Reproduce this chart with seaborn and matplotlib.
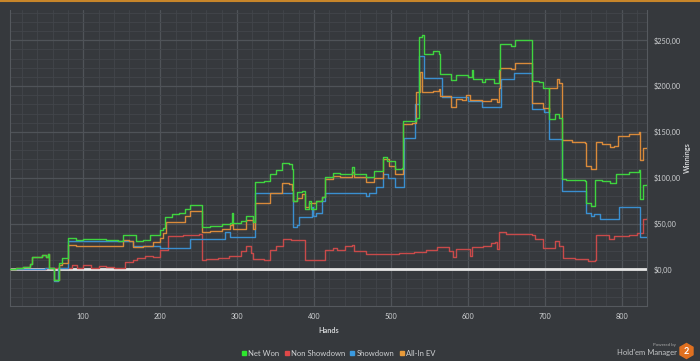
import matplotlib
matplotlib.use('Agg')
import matplotlib.pyplot as plt
from matplotlib.lines import Line2D
from matplotlib.patches import RegularPolygon
from matplotlib.ticker import MultipleLocator, FuncFormatter
import seaborn as sns
import pandas as pd

# step breakpoints: (hand, winnings)
NET_WON = [(0, 0), (5, 0), (13, 2), (22, 3), (31, 6), (33, 13), (40, 14), (46, 16), (52, 14),
           (54, 17), (56, 2), (60, 2), (62, -12), (66, -12), (68, 7), (72, 12), (79, 12), (80, 34),
           (90, 32), (100, 33), (115, 33), (130, 32), (145, 31), (152, 37), (160, 37), (168, 31),
           (178, 32), (187, 37), (197, 37), (200, 43), (204, 45), (206, 57), (215, 60), (225, 62),
           (232, 66), (239, 70), (253, 70), (254, 46), (265, 47), (280, 49), (291, 51), (293, 61),
           (295, 51), (305, 53), (312, 58), (321, 52), (323, 95), (335, 96), (343, 104), (351, 108),
           (358, 116), (368, 115), (371, 110), (373, 75), (378, 84), (385, 85), (388, 66), (394, 75),
           (396, 66), (402, 75), (410, 79), (414, 101), (425, 105), (434, 104), (449, 112), (452, 104),
           (468, 101), (478, 107), (490, 123), (495, 118), (505, 110), (515, 111), (516, 162),
           (528, 162), (532, 165), (536, 253), (540, 256), (543, 235), (555, 238), (562, 235),
           (564, 213), (578, 207), (584, 212), (592, 212), (600, 210), (605, 217), (607, 208),
           (618, 204), (622, 208), (634, 203), (640, 218), (642, 246), (656, 244), (661, 250),
           (682, 250), (683, 206), (692, 204), (698, 198), (705, 198), (706, 164), (714, 170),
           (718, 165), (722, 99), (728, 97), (752, 96), (754, 72), (760, 69), (765, 97), (775, 96),
           (785, 94), (793, 104), (810, 106), (822, 108), (824, 77), (828, 92), (833, 93)]

NON_SHOWDOWN = [(0, 0), (50, 0), (52, 2), (85, 5), (92, 2), (100, 5), (110, 2), (120, 4), (130, 3),
                (140, 1), (150, 2), (154, 8), (165, 10), (170, 12), (180, 15), (190, 14), (200, 21),
                (206, 21), (210, 36), (220, 36), (230, 37), (250, 39), (254, 10), (260, 11), (275, 12),
                (290, 15), (305, 20), (312, 25), (318, 18), (321, 11), (335, 10), (343, 21), (350, 25),
                (360, 33), (370, 32), (388, 10), (414, 21), (425, 23), (430, 21), (440, 25), (449, 27),
                (452, 20), (468, 17), (490, 17), (510, 18), (530, 19), (545, 21), (560, 24), (575, 20),
                (581, 14), (585, 22), (603, 15), (605, 24), (620, 26), (630, 29), (635, 30), (638, 22),
                (640, 41), (650, 39), (683, 38), (688, 33), (698, 23), (706, 23), (714, 31), (718, 25),
                (724, 12), (740, 11), (756, 9), (765, 10), (767, 37), (780, 38), (784, 33), (790, 36),
                (810, 38), (820, 40), (828, 55), (833, 57)]

SHOWDOWN = [(0, 0), (50, 2), (62, -13), (66, -13), (67, 2), (79, 2), (80, 31), (165, 25), (200, 23),
            (239, 33), (284, 41), (291, 35), (323, 83), (373, 46), (378, 48), (380, 57), (397, 68),
            (399, 58), (402, 62), (410, 75), (414, 83), (468, 80), (472, 83), (481, 90), (490, 104),
            (496, 100), (505, 90), (517, 143), (531, 180), (536, 233), (543, 209), (566, 188),
            (600, 184), (619, 177), (643, 208), (660, 214), (683, 175), (699, 172), (706, 142),
            (722, 86), (754, 61), (760, 58), (764, 60), (772, 55), (797, 68), (824, 35), (833, 35)]

ALL_IN_EV = [(0, 0), (5, 0), (13, 2), (22, 3), (31, 6), (33, 13), (40, 14), (46, 16), (52, 14),
             (54, 17), (56, 2), (60, 2), (62, -12), (66, -12), (68, 5), (72, 7), (79, 7), (80, 27),
             (90, 25), (100, 26), (120, 26), (140, 25), (152, 32), (160, 31), (165, 24), (178, 26),
             (190, 30), (200, 34), (204, 40), (208, 52), (225, 52), (232, 58), (239, 64), (253, 64),
             (254, 41), (265, 42), (280, 44), (291, 48), (293, 50), (295, 44), (312, 54), (321, 44),
             (323, 72), (335, 72), (343, 83), (351, 83), (358, 94), (368, 93), (371, 87), (373, 75),
             (378, 78), (385, 82), (388, 68), (394, 72), (402, 75), (410, 79), (414, 99), (425, 102),
             (434, 101), (449, 106), (452, 101), (468, 95), (478, 100), (490, 120), (497, 113),
             (505, 104), (515, 104), (516, 159), (528, 160), (533, 193), (538, 215), (541, 193),
             (555, 195), (562, 197), (564, 189), (578, 177), (584, 186), (592, 185), (598, 190),
             (603, 185), (618, 184), (630, 186), (638, 183), (640, 198), (642, 220), (656, 219),
             (661, 225), (682, 225), (683, 181), (698, 176), (705, 172), (706, 198), (716, 208),
             (719, 203), (723, 141), (735, 139), (752, 138), (754, 113), (760, 110), (767, 139),
             (775, 137), (785, 134), (790, 135), (795, 146), (810, 148), (822, 150), (824, 119),
             (828, 132), (833, 134)]

SERIES = ['Net Won', 'Non Showdown', 'Showdown', 'All-In EV']
COLORS = {'Net Won': '#3fd43f', 'Non Showdown': '#c94a4a',
          'Showdown': '#3a8fd0', 'All-In EV': '#d98a3a'}
LEGEND_COLORS = {'Net Won': '#2ee82e', 'Non Showdown': '#e04848',
                 'Showdown': '#3a9ae0', 'All-In EV': '#e89a3a'}

BG = '#36393d'
TXT = '#cfd1d3'

rows = []
for name, pts in zip(SERIES, [NET_WON, NON_SHOWDOWN, SHOWDOWN, ALL_IN_EV]):
    for h, v in pts:
        rows.append({'Hands': h, 'Winnings': v, 'series': name})
df = pd.DataFrame(rows)

sns.set_style('dark')
plt.rcParams['font.family'] = ['Lato', 'DejaVu Sans']

fig = plt.figure(figsize=(7, 3.61), dpi=100, facecolor=BG)
ax = fig.add_axes([10 / 700, 55 / 361, 637 / 700, 296 / 361], facecolor=BG)

ax.set_xlim(4.7, 833)
ax.set_ylim(-40, 283)

ax.xaxis.set_major_locator(MultipleLocator(100))
ax.xaxis.set_minor_locator(MultipleLocator(20))
ax.yaxis.set_major_locator(MultipleLocator(50))
ax.yaxis.set_minor_locator(MultipleLocator(10))
ax.grid(which='major', color='#4f5358', lw=0.9)
ax.grid(which='minor', color='#42464b', lw=0.6)
ax.set_axisbelow(True)

ax.axhline(0, color='#e6e6e6', lw=2, zorder=2)

for name in ['Non Showdown', 'Showdown', 'All-In EV', 'Net Won']:
    sub = df[df['series'] == name]
    sns.lineplot(data=sub, x='Hands', y='Winnings', ax=ax, color=COLORS[name],
                 drawstyle='steps-post', lw=1.0, estimator=None, sort=False,
                 legend=False, zorder=3)

ax.yaxis.tick_right()
ax.yaxis.set_label_position('right')
ax.yaxis.set_major_formatter(FuncFormatter(lambda v, p: f'${v:,.2f}'.replace('.', ',')))
ax.set_xticks([100, 200, 300, 400, 500, 600, 700, 800])
ax.set_yticks([0, 50, 100, 150, 200, 250])
ax.tick_params(which='both', length=0, colors=TXT, labelsize=5.2, pad=5)

ax.set_xlabel('Hands', color=TXT, fontsize=5.2, fontweight='bold')
ax.xaxis.set_label_coords(0.5, -0.072)
ax.set_ylabel('Winnings', color=TXT, fontsize=5.2, fontweight='bold', labelpad=2)

for s in ax.spines.values():
    s.set_color('#55595e')
    s.set_linewidth(0.8)
ax.spines['top'].set_visible(False)

handles = [Line2D([], [], marker='s', ls='', color=LEGEND_COLORS[n], markersize=3) for n in SERIES]
fig.legend(handles, SERIES, loc='center', bbox_to_anchor=(338 / 700, 1 - 353 / 361),
           ncol=4, frameon=False, fontsize=5.5, labelcolor=TXT, handletextpad=0.1,
           columnspacing=0.6, borderaxespad=0, handlelength=0.8)

# top accent line
fig.add_artist(Line2D([0, 1], [0.998, 0.998], color='#c8862a', lw=1.5, transform=fig.transFigure))

# branding
fig.text(676 / 700, 1 - 345 / 361, 'Powered by', color='#aaaaaa', fontsize=3.2, ha='right', va='center')
fig.text(677 / 700, 1 - 352.5 / 361, "Hold'em Manager", color='#c4c6c8', fontsize=5.5, ha='right', va='center')
hexagon = RegularPolygon((6.865, 0.10), numVertices=6, radius=0.075,
                         transform=fig.dpi_scale_trans, color='#e07020', orientation=0)
fig.add_artist(hexagon)
fig.text(686.5 / 700, 1 - 351 / 361, '2', color='white', fontsize=6.5, fontweight='bold',
         ha='center', va='center')

fig.savefig('out.png', dpi=100, facecolor=BG)
plt.close(fig)
